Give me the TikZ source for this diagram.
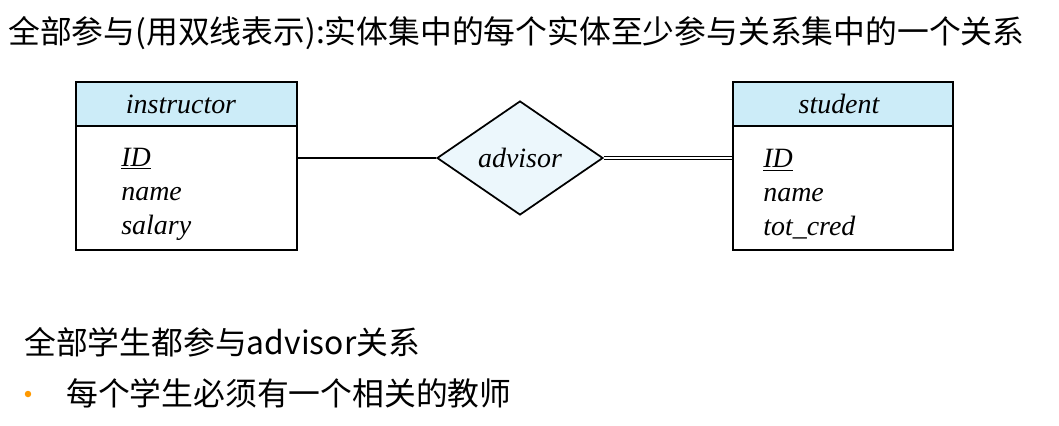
\documentclass[tikz,border=0pt]{standalone}
\usepackage{fontspec}
\setmainfont{Liberation Serif}
\newfontfamily\cjk{Noto Sans CJK SC}
\usetikzlibrary{shapes.geometric}

\definecolor{headblue}{RGB}{204,236,248}
\definecolor{relblue}{RGB}{236,247,252}
\definecolor{dotorange}{RGB}{255,153,0}

\begin{document}
\begin{tikzpicture}[x=0.02cm, y=-0.02cm,
    head/.style={draw, fill=headblue, line width=0.04cm, minimum height=0.88cm, inner sep=0pt, font=\fontsize{15.9}{19.3}\selectfont\itshape},
    body/.style={draw, line width=0.04cm, minimum height=2.48cm, inner sep=0pt},
    attr/.style={anchor=west, align=left, inner sep=0pt, font=\fontsize{15.9}{19.3}\selectfont\itshape},
    rel/.style={diamond, draw, fill=relblue, line width=0.035cm, minimum width=3.32cm, minimum height=2.28cm, inner sep=0pt, font=\fontsize{15.9}{19.3}\selectfont\itshape},
    say/.style={anchor=west, inner sep=0pt, font=\cjk\fontsize{18.1}{22}\selectfont}]
            \useasboundingbox (0,0) rectangle (1059,426);
            \node [say] (T)  at (8,33)   {全部参与(用双线表示):实体集中的每个实体至少参与关系集中的一个关系};
            % instructor
            \node [head, minimum width=4.42cm] (I)  at (186.5,104) {\hspace*{-0.22cm}instructor};
            \node [body, minimum width=4.42cm] (IB) at (186.5,188) {};
            \node [attr] (IA) at (121,194) {\underline{ID}\\name\\salary};
            % student
            \node [head, minimum width=4.40cm] (S)  at (843,104) {\hspace*{-0.16cm}student};
            \node [body, minimum width=4.40cm] (SB) at (843,188) {};
            \node [attr] (SA) at (763,194) {\underline{ID}\\name\\tot\_cred};
            % advisor
            \node [rel] (A) at (520,158) {advisor};
            \draw [line width=0.03cm] (A.west) -- (A.west -| IB.east);
            \draw [double, line width=0.03cm, double distance=0.03cm] (A.east) -- (A.east -| SB.west);
            \node [say] (L1) at (24,342) {全部学生都参与advisor关系};
            \node [circle, fill=dotorange, inner sep=0pt, minimum size=0.13cm] (B) at (28,394) {};
            \node [say] (L2) at (66,393) {每个学生必须有一个相关的教师};
        \end{tikzpicture}
\end{document}
